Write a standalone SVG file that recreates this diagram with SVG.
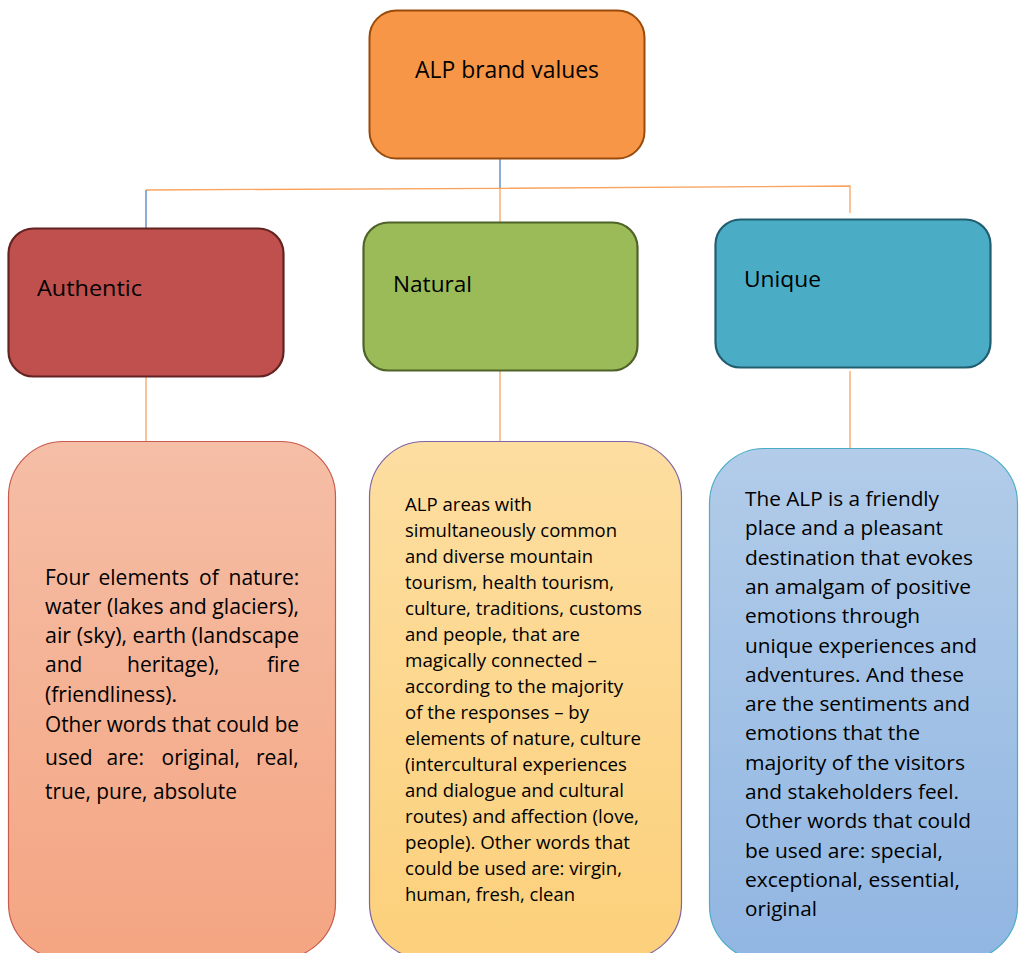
<svg xmlns="http://www.w3.org/2000/svg" width="1019" height="953" viewBox="0 0 1019 953">
<style>
text{font-family:"Open Sans","Noto Sans","Liberation Sans",sans-serif;fill:#000}
.t{font-size:23px}
.h{font-size:22px}
.a{font-size:21px}
.n{font-size:18px}
.u{font-size:20px}
.co{stroke:#F9A35E;stroke-width:1.3;fill:none}
.cb{stroke:#4F81BD;stroke-width:1.3;fill:none}
</style>
<defs>
<linearGradient id="gA" x1="0" y1="0" x2="0" y2="1"><stop offset="0" stop-color="#F5BEA6"/><stop offset="1" stop-color="#F4A582"/></linearGradient>
<linearGradient id="gN" x1="0" y1="0" x2="0" y2="1"><stop offset="0" stop-color="#FDDEA1"/><stop offset="1" stop-color="#FCD07B"/></linearGradient>
<linearGradient id="gU" x1="0" y1="0" x2="0" y2="1"><stop offset="0" stop-color="#B2CCE9"/><stop offset="1" stop-color="#91B6E2"/></linearGradient>
</defs>
<g id="connectors">
<line class="cb" x1="500" y1="158" x2="500" y2="188"/>
<polyline class="co" points="146,190 500,188.3 850,186 850,213"/>
<line class="cb" x1="146" y1="190" x2="146" y2="228"/>
<line class="co" x1="500" y1="188" x2="500" y2="222"/>
<line class="co" x1="146" y1="377" x2="146" y2="441"/>
<line class="co" x1="500" y1="371" x2="500" y2="441"/>
<line class="co" x1="850" y1="371" x2="850" y2="448"/>
</g>
<g id="root">
<rect x="369.5" y="10.5" width="275" height="148" rx="27" fill="#F79646" stroke="#9A4B0C" stroke-width="2"/>
<text class="t" x="415" y="78" textLength="184" lengthAdjust="spacingAndGlyphs">ALP brand values</text>
</g>
<g id="authentic">
<rect x="8.5" y="228.5" width="275" height="148" rx="25" fill="#C0504D" stroke="#622321" stroke-width="2.2"/>
<text class="h" x="37" y="296" textLength="105" lengthAdjust="spacingAndGlyphs">Authentic</text>
</g>
<g id="natural">
<rect x="363.5" y="222.5" width="274" height="148" rx="25" fill="#9BBB59" stroke="#4F6228" stroke-width="2.2"/>
<text class="h" x="393" y="292" textLength="79" lengthAdjust="spacingAndGlyphs">Natural</text>
</g>
<g id="unique">
<rect x="715.5" y="219.5" width="275" height="148" rx="25" fill="#4BACC6" stroke="#215E70" stroke-width="2.2"/>
<text class="h" x="744" y="287" textLength="77" lengthAdjust="spacingAndGlyphs">Unique</text>
</g>
<g id="authentic-desc">
<rect x="8.5" y="441.5" width="327" height="517" rx="55" fill="url(#gA)" stroke="#C95A4E" stroke-width="1.2"/>
<text class="a" y="585"><tspan x="45">Four</tspan><tspan x="98.5">elements</tspan><tspan x="199">of</tspan><tspan x="228.5">nature:</tspan></text>
<text class="a" x="45" y="614" textLength="254" lengthAdjust="spacingAndGlyphs">water (lakes and glaciers),</text>
<text class="a" x="45" y="643" textLength="254" lengthAdjust="spacingAndGlyphs">air (sky), earth (landscape</text>
<text class="a" y="672"><tspan x="45">and</tspan><tspan x="127">heritage),</tspan><tspan x="267">fire</tspan></text>
<text class="a" x="45" y="702" textLength="132" lengthAdjust="spacingAndGlyphs">(friendliness).</text>
<text class="a" x="45" y="732" textLength="254" lengthAdjust="spacingAndGlyphs">Other words that could be</text>
<text class="a" y="765"><tspan x="45">used</tspan><tspan x="106.5">are:</tspan><tspan x="161.5">original,</tspan><tspan x="256">real,</tspan></text>
<text class="a" x="45" y="799" textLength="192" lengthAdjust="spacingAndGlyphs">true, pure, absolute</text>
</g>
<g id="natural-desc">
<rect x="369.5" y="441.5" width="312" height="517" rx="55" fill="url(#gN)" stroke="#8064A2" stroke-width="1.2"/>
<text class="n" x="405" y="511" textLength="127" lengthAdjust="spacingAndGlyphs">ALP areas with</text>
<text class="n" x="405" y="537" textLength="212" lengthAdjust="spacingAndGlyphs">simultaneously common</text>
<text class="n" x="405" y="563" textLength="188" lengthAdjust="spacingAndGlyphs">and diverse mountain</text>
<text class="n" x="405" y="589" textLength="209" lengthAdjust="spacingAndGlyphs">tourism, health tourism,</text>
<text class="n" x="405" y="615" textLength="237" lengthAdjust="spacingAndGlyphs">culture, traditions, customs</text>
<text class="n" x="405" y="641" textLength="175" lengthAdjust="spacingAndGlyphs">and people, that are</text>
<text class="n" x="405" y="667" textLength="192" lengthAdjust="spacingAndGlyphs">magically connected –</text>
<text class="n" x="405" y="693" textLength="218" lengthAdjust="spacingAndGlyphs">according to the majority</text>
<text class="n" x="405" y="719" textLength="184" lengthAdjust="spacingAndGlyphs">of the responses – by</text>
<text class="n" x="405" y="745" textLength="236" lengthAdjust="spacingAndGlyphs">elements of nature, culture</text>
<text class="n" x="405" y="771" textLength="222" lengthAdjust="spacingAndGlyphs">(intercultural experiences</text>
<text class="n" x="405" y="797" textLength="219" lengthAdjust="spacingAndGlyphs">and dialogue and cultural</text>
<text class="n" x="405" y="823" textLength="234" lengthAdjust="spacingAndGlyphs">routes) and affection (love,</text>
<text class="n" x="405" y="849" textLength="225" lengthAdjust="spacingAndGlyphs">people). Other words that</text>
<text class="n" x="405" y="875" textLength="217" lengthAdjust="spacingAndGlyphs">could be used are: virgin,</text>
<text class="n" x="405" y="901" textLength="170" lengthAdjust="spacingAndGlyphs">human, fresh, clean</text>
</g>
<g id="unique-desc">
<rect x="709.5" y="448.5" width="308" height="512" rx="55" fill="url(#gU)" stroke="#4BACC6" stroke-width="1.2"/>
<text class="u" x="745" y="506" textLength="194" lengthAdjust="spacingAndGlyphs">The ALP is a friendly</text>
<text class="u" x="745" y="535" textLength="198" lengthAdjust="spacingAndGlyphs">place and a pleasant</text>
<text class="u" x="745" y="565" textLength="228" lengthAdjust="spacingAndGlyphs">destination that evokes</text>
<text class="u" x="745" y="594" textLength="226" lengthAdjust="spacingAndGlyphs">an amalgam of positive</text>
<text class="u" x="745" y="623" textLength="175" lengthAdjust="spacingAndGlyphs">emotions through</text>
<text class="u" x="745" y="653" textLength="232" lengthAdjust="spacingAndGlyphs">unique experiences and</text>
<text class="u" x="745" y="682" textLength="219" lengthAdjust="spacingAndGlyphs">adventures. And these</text>
<text class="u" x="745" y="711" textLength="225" lengthAdjust="spacingAndGlyphs">are the sentiments and</text>
<text class="u" x="745" y="740" textLength="175" lengthAdjust="spacingAndGlyphs">emotions that the</text>
<text class="u" x="745" y="770" textLength="220" lengthAdjust="spacingAndGlyphs">majority of the visitors</text>
<text class="u" x="745" y="799" textLength="214" lengthAdjust="spacingAndGlyphs">and stakeholders feel.</text>
<text class="u" x="745" y="828" textLength="226" lengthAdjust="spacingAndGlyphs">Other words that could</text>
<text class="u" x="745" y="858" textLength="198" lengthAdjust="spacingAndGlyphs">be used are: special,</text>
<text class="u" x="745" y="887" textLength="215" lengthAdjust="spacingAndGlyphs">exceptional, essential,</text>
<text class="u" x="745" y="916" textLength="72" lengthAdjust="spacingAndGlyphs">original</text>
</g>
</svg>
